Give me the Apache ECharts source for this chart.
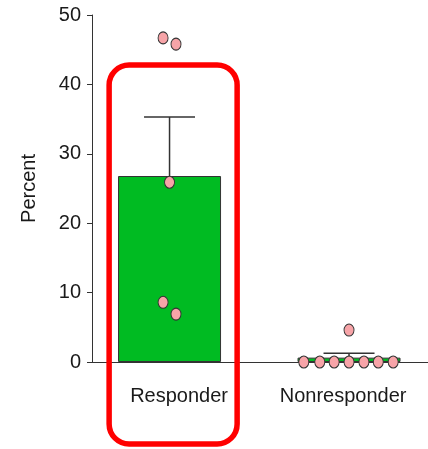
<!DOCTYPE html>
<html>
<head>
<meta charset="utf-8">
<script src="https://cdn.jsdelivr.net/npm/echarts@6/dist/echarts.min.js"></script>
<style>
  html, body { margin: 0; padding: 0; background: #fff; }
  #chart { width: 428px; height: 449px; }
</style>
</head>
<body>
<div id="chart"></div>
<script>
// Groups and their positions on the x value axis
const groups = ['Responder', 'Nonresponder'];
const groupPos = [1, 2];
const labelPos = [1.053, 1.967];

// Group means and upper end of the error bars (percent)
const means = [26.8, 0.63];
const errorTop = [35.3, 1.25];

// Individual observations per group, with horizontal jitter offsets
const responderValues = [46.7, 45.8, 25.9, 8.6, 6.9];
const responderJitter = [-0.036, 0.036, 0, -0.036, 0.036];
const nonresponderValues = [4.6, 0, 0, 0, 0, 0, 0, 0];
const nonresponderJitter = [0, -0.252, -0.163, -0.083, 0, 0.083, 0.163, 0.246];

// Y axis ticks
const yTicks = [0, 10, 20, 30, 40, 50];

const points = [];
responderValues.forEach((v, i) => points.push([groupPos[0] + responderJitter[i], v]));
nonresponderValues.forEach((v, i) => points.push([groupPos[1] + nonresponderJitter[i], v]));

const chart = echarts.init(document.getElementById('chart'), null, { renderer: 'canvas' });
const FONT = 'Liberation Sans, Arial, sans-serif';

chart.setOption({
  animation: false,
  grid: { left: 92, right: 0, top: 15, bottom: 87, containLabel: false },
  xAxis: {
    type: 'value',
    min: 0.568,
    max: 2.44,
    splitLine: { show: false },
    axisLine: { show: true, onZero: false, lineStyle: { color: '#333', width: 1 } },
    axisTick: { show: false },
    axisLabel: {
      customValues: labelPos,
      formatter: (v) => {
        const i = labelPos.findIndex(p => Math.abs(p - v) < 1e-6);
        return i >= 0 ? groups[i] : '';
      },
      color: '#1a1a1a',
      fontFamily: FONT,
      fontSize: 20,
      margin: 24
    }
  },
  yAxis: {
    type: 'value',
    min: 0,
    max: 50,
    interval: 10,
    name: 'Percent',
    nameLocation: 'middle',
    nameGap: 53,
    nameTextStyle: { color: '#1a1a1a', fontFamily: FONT, fontSize: 20 },
    splitLine: { show: false },
    axisLine: { show: true, lineStyle: { color: '#333', width: 1 } },
    axisTick: { show: true, length: 5, lineStyle: { color: '#333' } },
    axisLabel: {
      color: '#1a1a1a',
      fontFamily: FONT,
      fontSize: 20,
      margin: 11,
      formatter: (v) => yTicks.includes(v) ? String(v) : ''
    }
  },
  series: [
    {
      type: 'bar',
      data: groupPos.map((p, i) => [p, means[i]]),
      barWidth: 103,
      itemStyle: { color: '#00bb22', borderColor: '#333', borderWidth: 1 },
      z: 2
    },
    {
      // error bars: vertical whisker from mean to upper value, with a cap
      type: 'custom',
      z: 3,
      data: groupPos.map((p, i) => [p, means[i], errorTop[i]]),
      renderItem: (params, api) => {
        const base = api.coord([api.value(0), api.value(1)]);
        const top = api.coord([api.value(0), api.value(2)]);
        const half = 25.5;
        const style = { stroke: '#333', lineWidth: 1.5 };
        return {
          type: 'group',
          children: [
            { type: 'line', shape: { x1: base[0], y1: base[1], x2: top[0], y2: top[1] }, style },
            { type: 'line', shape: { x1: top[0] - half, y1: top[1], x2: top[0] + half, y2: top[1] }, style }
          ]
        };
      }
    },
    {
      type: 'scatter',
      data: points,
      symbol: 'circle',
      symbolSize: [10, 12],
      itemStyle: { color: '#f7a4a8', borderColor: '#333', borderWidth: 1, opacity: 1 },
      z: 5,
      clip: false
    },
    {
      // highlight frame around the Responder group
      type: 'custom',
      z: 10,
      clip: false,
      silent: true,
      data: [[groupPos[0], 42.8]],
      renderItem: (params, api) => {
        const top = api.coord([api.value(0) + 0.02, api.value(1)]);
        const base = api.coord([api.value(0), 0]);
        const w = 128;
        return {
          type: 'rect',
          shape: { x: top[0] - w / 2, y: top[1], width: w, height: base[1] + 82 - top[1], r: 20 },
          style: { fill: 'none', stroke: '#ff0000', lineWidth: 5.5 }
        };
      }
    }
  ]
});
</script>
</body>
</html>
